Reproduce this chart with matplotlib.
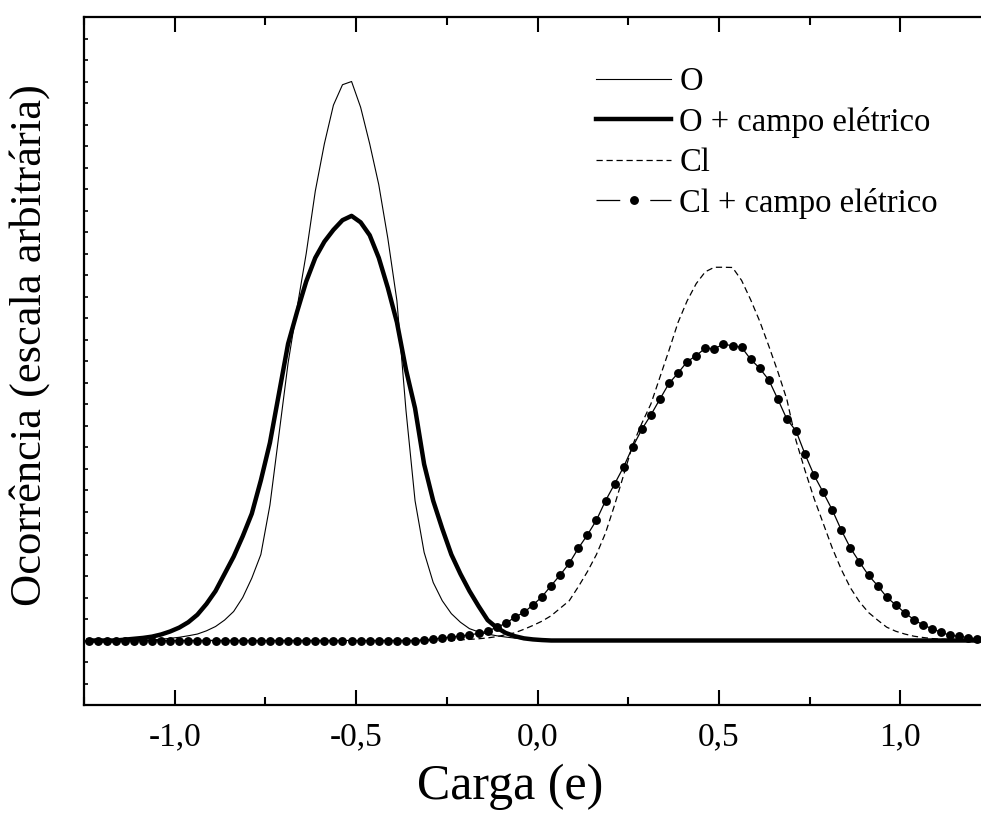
import numpy as np
import matplotlib
matplotlib.use("Agg")
import matplotlib.pyplot as plt
from matplotlib.lines import Line2D
from matplotlib.ticker import MultipleLocator, FuncFormatter

plt.rcParams['font.family'] = ['Liberation Serif', 'DejaVu Serif']

# bin centres of the charge histograms (step 0.025 e)
carga = np.round(-1.2375 + 0.025 * np.arange(100), 4)

# O without field
ocorr_o = [
    0, 0, 0, 0, 0, 0, 0.01, 0.03, 0.06, 0.10,
    0.15, 0.22, 0.30, 0.45, 0.65, 0.95, 1.35, 2.0, 2.9, 4.0,
    6.3, 9.6, 12.9, 15.5, 18.0, 20.9, 23.1, 24.9, 25.85, 26.0,
    24.8, 23.1, 21.2, 18.7, 15.8, 10.7, 6.5, 4.1, 2.7, 1.85,
    1.25, 0.85, 0.55, 0.40, 0.30, 0.22, 0.16, 0.11, 0.07, 0.04,
    0.02, 0, 0, 0, 0, 0, 0, 0, 0, 0,
    0, 0, 0, 0, 0, 0, 0, 0, 0, 0,
    0, 0, 0, 0, 0, 0, 0, 0, 0, 0,
    0, 0, 0, 0, 0, 0, 0, 0, 0, 0,
    0, 0, 0, 0, 0, 0, 0, 0, 0, 0,
]

# O with electric field
ocorr_o_campo = [
    0, 0, 0, 0, 0.04, 0.08, 0.12, 0.18, 0.28, 0.42,
    0.6, 0.85, 1.2, 1.7, 2.3, 3.1, 3.9, 4.85, 5.9, 7.45,
    9.2, 11.5, 13.8, 15.3, 16.7, 17.8, 18.55, 19.1, 19.55, 19.75,
    19.45, 18.85, 17.8, 16.4, 14.8, 12.6, 10.8, 8.2, 6.5, 5.2,
    4.0, 3.1, 2.3, 1.6, 0.95, 0.6, 0.35, 0.2, 0.1, 0.05,
    0.02, 0, 0, 0, 0, 0, 0, 0, 0, 0,
    0, 0, 0, 0, 0, 0, 0, 0, 0, 0,
    0, 0, 0, 0, 0, 0, 0, 0, 0, 0,
    0, 0, 0, 0, 0, 0, 0, 0, 0, 0,
    0, 0, 0, 0, 0, 0, 0, 0, 0, 0,
]

# Cl without field
ocorr_cl = [
    0, 0, 0, 0, 0, 0, 0, 0, 0, 0,
    0, 0, 0, 0, 0, 0, 0, 0, 0, 0,
    0, 0, 0, 0, 0, 0, 0, 0, 0, 0,
    0, 0, 0, 0, 0, 0, 0, 0, 0, 0,
    0, 0.03, 0.05, 0.08, 0.12, 0.18, 0.27, 0.36, 0.52, 0.7,
    0.9, 1.15, 1.5, 1.85, 2.5, 3.2, 4.0, 5.0, 6.3, 7.7,
    9.1, 10.1, 11.0, 12.25, 13.5, 14.8, 15.8, 16.6, 17.15, 17.36,
    17.36, 17.35, 16.75, 15.85, 14.85, 13.7, 12.5, 11.2, 9.3, 7.9,
    6.6, 5.45, 4.3, 3.3, 2.45, 1.8, 1.3, 0.95, 0.62, 0.43,
    0.3, 0.2, 0.14, 0.09, 0.06, 0.04, 0.02, 0.01, 0, 0,
]

# Cl with electric field
ocorr_cl_campo = [
    0, 0, 0, 0, 0, 0, 0, 0, 0, 0,
    0, 0, 0, 0, 0, 0, 0, 0, 0, 0,
    0, 0, 0, 0, 0, 0, 0, 0, 0, 0,
    0, 0, 0, 0, 0, 0, 0, 0.03, 0.06, 0.12,
    0.16, 0.21, 0.26, 0.33, 0.44, 0.61, 0.8, 1.08, 1.31, 1.65,
    2.04, 2.55, 3.05, 3.59, 4.29, 4.91, 5.6, 6.5, 7.28, 8.08,
    9.01, 9.82, 10.49, 11.23, 11.96, 12.44, 12.97, 13.25, 13.6, 13.57,
    13.78, 13.71, 13.64, 13.08, 12.66, 12.12, 11.22, 10.29, 9.75, 8.66,
    7.68, 6.89, 6.07, 5.13, 4.3, 3.65, 3.03, 2.55, 2.02, 1.65,
    1.29, 0.97, 0.72, 0.55, 0.38, 0.24, 0.2, 0.13, 0.08, 0.05,
]

rotulos = ["O", "O + campo elétrico", "Cl", "Cl + campo elétrico"]

fig = plt.figure(figsize=(9.81, 8.16), dpi=100)
# right edge of the frame falls just outside the canvas
ax = fig.add_axes([84 / 981, 111 / 816, 907 / 981, 688 / 816])

l1, = ax.plot(carga, ocorr_o, color='black', lw=0.8)
l2, = ax.plot(carga, ocorr_o_campo, color='black', lw=3.2)
l3, = ax.plot(carga, ocorr_cl, color='black', lw=0.9, dashes=(5, 3))
ax.plot(carga, ocorr_cl_campo, color='black', lw=0.9, marker='o', ms=6.4,
        markeredgewidth=0)

ax.set_xlim(-1.25, 1.25)
ax.set_ylim(-3, 29)

ax.xaxis.set_major_locator(MultipleLocator(0.5))
ax.xaxis.set_minor_locator(MultipleLocator(0.25))
ax.xaxis.set_major_formatter(FuncFormatter(lambda v, p: f"{v:.1f}".replace('.', ',')))
ax.yaxis.set_major_locator(MultipleLocator(1))
ax.yaxis.set_major_formatter(FuncFormatter(lambda v, p: ""))

ax.tick_params(axis='x', which='major', direction='in', length=11, width=1.5,
               top=True, labelsize=24, pad=12)
ax.tick_params(axis='x', which='minor', direction='in', length=6, width=1.5, top=True)
ax.tick_params(axis='y', which='major', direction='in', length=3, width=1.2, right=True)
for s in ax.spines.values():
    s.set_linewidth(1.6)

ax.set_xlabel("Carga (e)", fontsize=36)
ax.set_ylabel("Ocorrência (escala arbitrária)", fontsize=32)
ax.xaxis.set_label_coords(0.47, -0.085)
ax.yaxis.set_label_coords(-0.038, 0.523)

# legend key for the dotted series: line broken around the marker
linha_quebrada = Line2D([], [], color='black', lw=0.9, dashes=(19, 24))
ponto = Line2D([], [], color='black', lw=0, marker='o', ms=6.4, markeredgewidth=0)

ax.legend([l1, l2, l3, (linha_quebrada, ponto)], rotulos,
          loc='upper left', bbox_to_anchor=(0.5645, 0.928), frameon=False,
          fontsize=23.5, handlelength=2.3, handletextpad=0.25, labelspacing=0.30,
          borderaxespad=0, borderpad=0)

fig.savefig("out.png", dpi=100)
